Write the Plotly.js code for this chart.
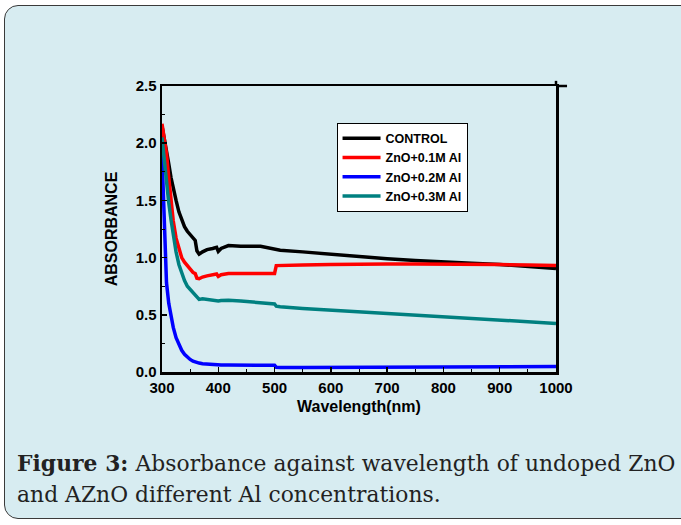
<!DOCTYPE html>
<html>
<head>
<meta charset="utf-8">
<script src="https://cdn.plot.ly/plotly-3.0.1.min.js"></script>
<style>
  html, body { margin: 0; padding: 0; background: #ffffff; }
  #page { position: relative; width: 681px; height: 525px; overflow: hidden; }
  #box { position: absolute; left: 4px; top: 5px; width: 700px; height: 514px;
         border: 1.5px solid #3a3a3a; border-radius: 14px; background: #d7ecf1; box-sizing: border-box; }
  #chart { position: absolute; left: 0; top: 0; width: 681px; height: 525px; }
  .cap { position: absolute; left: 17px; font-family: "DejaVu Serif", serif; font-size: 21.8px;
         color: #222; white-space: nowrap; letter-spacing: 0.05px; }
</style>
</head>
<body>
<div id="page">
  <div id="box"></div>
  <div id="chart"></div>
  <div class="cap" style="top:451px;"><b>Figure 3:</b> Absorbance against wavelength of undoped ZnO</div>
  <div class="cap" style="top:482px;">and AZnO different Al concentrations.</div>
</div>
<script>
const wavelength = [300, 304, 308, 312, 316, 320, 325, 330, 335, 340, 345, 350, 355, 359, 362, 366, 372, 380, 390, 397, 400, 405, 418, 440, 475, 500, 503, 510, 550, 600, 650, 676, 700, 750, 800, 850, 900, 950, 1000];

const seriesNames = ["CONTROL", "ZnO+0.1M Al", "ZnO+0.2M Al", "ZnO+0.3M Al"];

const control = [2.15, 2.05, 1.93, 1.82, 1.70, 1.60, 1.50, 1.40, 1.33, 1.27, 1.23, 1.20, 1.17, 1.15, 1.06, 1.03, 1.05, 1.07, 1.08, 1.09, 1.055, 1.08, 1.105, 1.10, 1.10, 1.08, 1.075, 1.065, 1.05, 1.03, 1.01, 0.995, 0.99, 0.975, 0.96, 0.95, 0.94, 0.925, 0.905];

const al01 = [2.17, 2.05, 1.91, 1.70, 1.50, 1.32, 1.17, 1.07, 1.00, 0.96, 0.93, 0.90, 0.87, 0.86, 0.82, 0.815, 0.83, 0.84, 0.85, 0.857, 0.835, 0.85, 0.86, 0.86, 0.865, 0.862, 0.93, 0.93, 0.935, 0.94, 0.945, 0.94, 0.945, 0.945, 0.945, 0.945, 0.94, 0.935, 0.93];

const al02 = [1.90, 1.25, 0.78, 0.60, 0.48, 0.39, 0.30, 0.235, 0.19, 0.155, 0.13, 0.11, 0.095, 0.087, 0.082, 0.078, 0.072, 0.068, 0.065, 0.063, 0.062, 0.062, 0.062, 0.061, 0.060, 0.058, 0.042, 0.040, 0.040, 0.041, 0.042, 0.043, 0.043, 0.044, 0.045, 0.045, 0.046, 0.046, 0.047];

const al03 = [2.05, 1.85, 1.65, 1.48, 1.33, 1.18, 1.05, 0.94, 0.86, 0.80, 0.75, 0.72, 0.69, 0.67, 0.65, 0.635, 0.64, 0.635, 0.63, 0.625, 0.62, 0.625, 0.628, 0.62, 0.605, 0.595, 0.575, 0.57, 0.555, 0.54, 0.525, 0.515, 0.51, 0.495, 0.485, 0.47, 0.455, 0.44, 0.425];

const xTickVals = [300, 400, 500, 600, 700, 800, 900, 1000];
const yTickVals = [0.0, 0.5, 1.0, 1.5, 2.0, 2.5];

const colors = ["#000000", "#ff0000", "#0000ff", "#008080"];
const values = [control, al01, al02, al03];

const traces = values.map((v, i) => ({
  x: wavelength, y: v, type: "scatter", mode: "lines", name: seriesNames[i],
  line: { color: colors[i], width: 3.5 }
}));

const fam = "Liberation Sans, Arial, sans-serif";

const layout = {
  width: 681, height: 525,
  paper_bgcolor: "rgba(0,0,0,0)", plot_bgcolor: "rgba(0,0,0,0)",
  margin: { l: 162, r: 125, t: 86, b: 153 },
  showlegend: true,
  legend: {
    x: 0.443, y: 0.872, xanchor: "left", yanchor: "top",
    bgcolor: "#ffffff", bordercolor: "#000", borderwidth: 1,
    font: { family: fam, size: 12.5, color: "#000", weight: "bold" },
    tracegroupgap: 0, itemwidth: 38
  },
  xaxis: {
    range: [300, 1000], tickvals: xTickVals, ticktext: xTickVals.map(String),
    ticks: "inside", ticklen: 5, tickwidth: 1.5, tickcolor: "#000",
    minor: { dtick: 50, ticks: "inside", ticklen: 3, tickcolor: "#000", tickwidth: 1 },
    showline: true, linecolor: "#000", linewidth: 2.5, mirror: true,
    showgrid: false, zeroline: false,
    tickfont: { family: fam, size: 15, color: "#000", weight: "bold" },
    title: { text: "Wavelength(nm)", standoff: 7,
             font: { family: fam, size: 16, color: "#000", weight: "bold" } }
  },
  yaxis: {
    range: [0, 2.5], tickvals: yTickVals, ticktext: yTickVals.map(v => v.toFixed(1)),
    ticks: "inside", ticklen: 5, tickwidth: 1.5, tickcolor: "#000",
    minor: { dtick: 0.25, ticks: "inside", ticklen: 3, tickcolor: "#000", tickwidth: 1 },
    showline: true, linecolor: "#000", linewidth: 2.5, mirror: true,
    showgrid: false, zeroline: false,
    tickfont: { family: fam, size: 15, color: "#000", weight: "bold" },
    title: { text: "ABSORBANCE", standoff: 14,
             font: { family: fam, size: 16, color: "#000", weight: "bold" } }
  },
  shapes: [
    { type: "line", xref: "paper", yref: "paper", x0: 1, x1: 1.028, y0: 1, y1: 1,
      line: { color: "#000", width: 2.5 } },
    { type: "line", xref: "paper", yref: "paper", x0: 1, x1: 1, y0: 1, y1: 1.018,
      line: { color: "#000", width: 2.5 } }
  ]
};

Plotly.newPlot("chart", traces, layout, { displayModeBar: false, staticPlot: true });
</script>
</body>
</html>
